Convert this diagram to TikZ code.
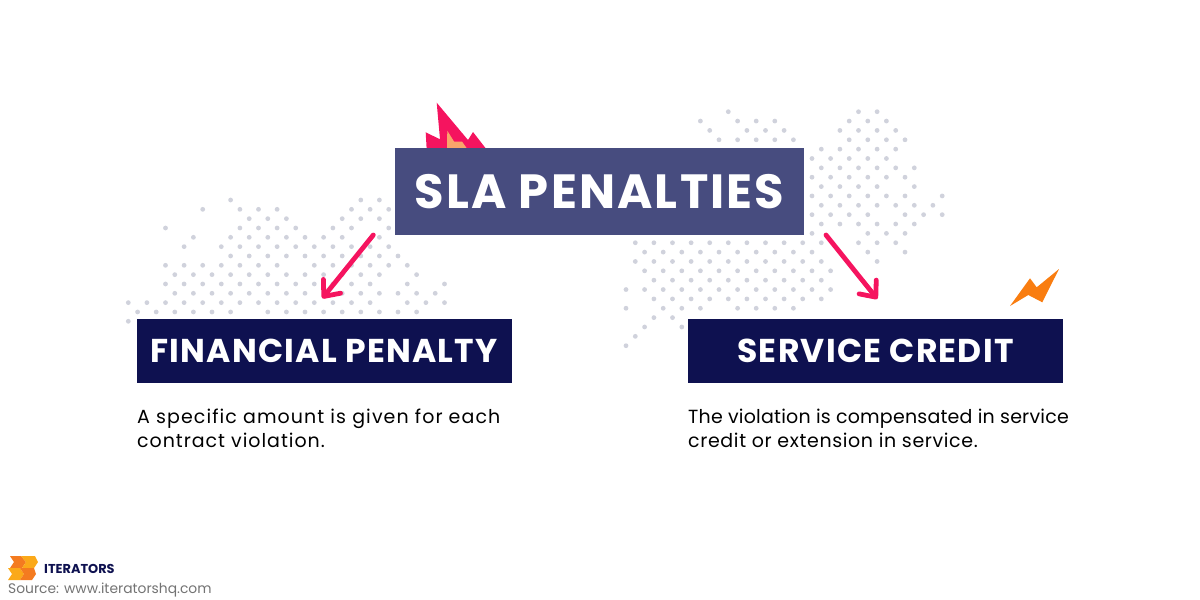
\documentclass[tikz,border=0pt]{standalone}
\usepackage{fontspec}
\usetikzlibrary{arrows.meta}
\setmainfont{Poppins}
\definecolor{slablue}{HTML}{474C7F}
\definecolor{navybox}{HTML}{0E1150}
\definecolor{penaltypink}{HTML}{F5145F}
\definecolor{flamepeach}{HTML}{F9A56B}
\definecolor{boltorange}{HTML}{F97D10}
\definecolor{dotgrey}{HTML}{D0D2DC}
\definecolor{logoamber}{HTML}{FBA919}
\definecolor{logoorange}{HTML}{F47B20}
\tikzset{
  slabox/.style={fill=slablue, text=white, inner sep=0pt, minimum width=409pt, minimum height=87pt, font=\bfseries\fontsize{48}{48}\selectfont\addfontfeatures{LetterSpace=4.5}},
  penaltybox/.style={fill=navybox, text=white, inner sep=0pt, minimum width=375pt, minimum height=64pt, font=\bfseries\fontsize{33}{33}\selectfont\addfontfeatures{LetterSpace=3.8}},
  bodytext/.style={anchor=base west, inner sep=0pt, text=black, font=\fontsize{19}{19}\selectfont\addfontfeatures{LetterSpace=#1}},
  penaltyarrow/.style={draw=penaltypink, line width=4.8pt, line cap=round, -{Straight Barb[length=13pt, width=22pt, line width=4.8pt, round]}},
}
\begin{document}
\begin{tikzpicture}[x=1pt, y=-1pt]
\useasboundingbox (0,0) rectangle (1200,600);
\foreach \row/\cols in {0/{11,25,27},1/{8,12,14,16,24,26,28},2/{13,15,17,23,25,27},3/{4,12,14,16,18,22,24,28},4/{7,11,13,15,17,19,21,23,27},5/{6,10,12,14,16,18,20,22,24,26,28},6/{11,13,15,17,19,21,23,25,27,29},7/{4,6,8,10,12,14,16,20,22,24,26,28,30},8/{5,7,9,11,13,15,17,19,21,23,25,27,31},9/{4,6,8,10,12,14,16,18,20,22,24,26,30,34},10/{5,7,9,11,13,15,17,19,23,25,27,29,31,33},11/{0,2,4,6,8,10,12,14,16,18,20,22,24,26,30,32,34},12/{1,3,5,7,9,11,15,17,19,21,23,25,27,29,31},13/{0}}{
  \foreach \col in \cols{
    \fill[dotgrey] ({128.3+9.3*\col},{200+9.33*\row}) circle (2.4);
  }
}
\foreach \row/\cols in {0/{11,25,27},1/{8,12,14,16,24,26,28},2/{9,13,15,17,23,25,27,29},3/{10,12,14,16,18,24,26,28,30},4/{21,23,25,27,29},5/{20,22,24,26,28},6/{21,23,25,27,29,31},7/{20,22,24,26,28,30},8/{21,23,25,27,31},9/{20,22,24,26,28,30,34},10/{21,23,25,27,29,31,33},11/{20,22,24,26,30,32,34},12/{21,23,25,27,29,31},13/{20,26,28,30},14/{1,3,5,7,9,11,13,15,17,19,21,25,27,29},15/{2,4,6,8,10,12,14,16,18,20,26,30},16/{1,3,5,7,9,11,13,15,17,19,21,27},17/{2,4,6,8,10,12,14,16,18,20,22},18/{3,5,7,9,11,13,15,17,19,21},19/{0,2,4,6,8,10,12,14,16,18,20,22},20/{3,5,7,9,11,13,15,17,19,21},21/{0,4,6,8,12,14,16,18},22/{3,5},23/{2,6},24/{1},25/{0}}{
  \foreach \col in \cols{
    \fill[dotgrey] ({626+9.3*\col},{111.7+9.36*\row}) circle (2.4);
  }
}
\fill[penaltypink] (426.7,150) -- (425.7,132.3) -- (440,139.3) -- (436.7,102.7) -- (468,140) -- (473,132) -- (487,150) -- cycle;
\fill[flamepeach] (447,150) -- (447.3,130.7) -- (454,141.5) -- (462,141.5) -- (468,150) -- cycle;
\fill[boltorange] (1059,269) -- (1042.3,302.3) -- (1028.3,295) -- (1010,306) -- (1030,278.3) -- (1036.7,287.3) -- cycle;
\node[slabox] (sla) at (599.5,191.5){SLA PENALTIES};
\node[penaltybox] (financial) at (324,351){FINANCIAL PENALTY};
\node[penaltybox] (credit) at (875.5,351){SERVICE CREDIT};
\coordinate (leftstart) at (373.3,235);
\coordinate (lefttip) at (322.3,298.3);
\coordinate (rightstart) at (826,235);
\coordinate (righttip) at (877.3,299);
\draw[penaltyarrow] (leftstart) -- (lefttip);
\draw[penaltyarrow] (rightstart) -- (righttip);
\node[bodytext=5.7] (fintexta) at (137,423){A specific amount is given for each};
\node[bodytext=5.1] (fintextb) at (137,447){contract violation.};
\node[bodytext=1.1] (credtexta) at (688,423){The violation is compensated in service};
\node[bodytext=3.3] (credtextb) at (688,447){credit or extension in service.};
\fill[logoorange] (10,556) -- (21,556) -- (26,562) -- (22,568) -- (10,568) -- (14,562) -- cycle;
\fill[logoamber] (21,556) -- (35,556) -- (38,562) -- (34,568) -- (22,568) -- (26,562) -- cycle;
\fill[logoamber] (8,568) -- (20,568) -- (24,574) -- (20,580) -- (8,580) -- (12,574) -- cycle;
\fill[logoorange] (20,568) -- (34,568) -- (36,574) -- (32,580) -- (20,580) -- (24,574) -- cycle;
\node[anchor=base west, inner sep=0pt, text=navybox, font=\bfseries\fontsize{12.9}{12.9}\selectfont] (logotext) at (44,573){ITERATORS};
\node[anchor=base west, inner sep=0pt, text=black!55, font=\fontsize{13.85}{13.85}\selectfont] (source) at (8,593){Source: www.iteratorshq.com};
\end{tikzpicture}
\end{document}
